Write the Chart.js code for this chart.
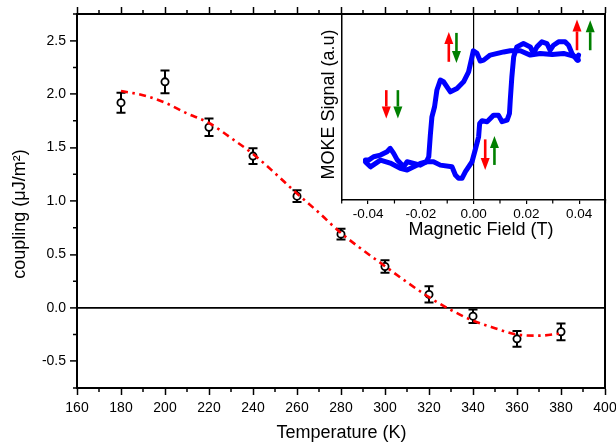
<!DOCTYPE html>
<html>
<head>
<meta charset="utf-8">
<script src="https://cdn.jsdelivr.net/npm/chart.js@4.4.1/dist/chart.umd.min.js"></script>
<style>
  html, body { margin: 0; padding: 0; background: #fff; }
  #wrap { position: relative; width: 616px; height: 446px; }
  #main  { position: absolute; left: 0; top: 0; }
  #inset { position: absolute; left: 318px; top: 0; }
</style>
</head>
<body>
<div id="wrap">
  <canvas id="main" width="616" height="446"></canvas>
  <canvas id="inset" width="298" height="246"></canvas>
</div>
<script>
// ── Data: main plot (coupling vs temperature) ─────────────
const temps    = [180, 200, 220, 240, 260, 280, 300, 320, 340, 360, 380];
const coupling = [1.92, 2.115, 1.69, 1.42, 1.045, 0.69, 0.387, 0.126, -0.078, -0.29, -0.224];
const errors   = [0.093, 0.106, 0.082, 0.073, 0.055, 0.05, 0.059, 0.076, 0.063, 0.073, 0.078];

// fitted curve
const fitT   = [180, 190, 200, 210, 220, 230, 240, 250, 260, 270, 280, 290, 300, 310, 320, 330, 340, 350, 360, 370, 380];
const fitVal = [2.03, 1.99, 1.92, 1.82, 1.73, 1.59, 1.44, 1.26, 1.07, 0.89, 0.70, 0.54, 0.39, 0.24, 0.10, -0.02, -0.12, -0.19, -0.25, -0.26, -0.24];

const xTicks = [160, 180, 200, 220, 240, 260, 280, 300, 320, 340, 360, 380, 400];
const yTicks = [-0.5, 0, 0.5, 1.0, 1.5, 2.0, 2.5];

// ── Data: inset (MOKE hysteresis loop) ────────────────────
const downField  = [0.0397, 0.0392, 0.0341, 0.0298, 0.0253, 0.0215, 0.0177, 0.0139, 0.0114, 0.0063, 0.0038, 0.0025, 0.0013, -0.0001, -0.0006, -0.0019, -0.0038, -0.0063, -0.0088, -0.0114, -0.0126, -0.0139, -0.0148, -0.0158, -0.0164, -0.0170, -0.0179, -0.0202, -0.0227, -0.0252, -0.0265, -0.0289, -0.0303, -0.0316, -0.0328, -0.0353, -0.0379, -0.0398, -0.0410];
const downSignal = [0.75, 0.766, 0.786, 0.78, 0.786, 0.777, 0.80, 0.80, 0.794, 0.777, 0.75, 0.745, 0.786, 0.80, 0.768, 0.687, 0.634, 0.598, 0.58, 0.634, 0.643, 0.59, 0.50, 0.446, 0.348, 0.232, 0.205, 0.187, 0.196, 0.205, 0.178, 0.214, 0.25, 0.277, 0.259, 0.241, 0.232, 0.214, 0.214];

const upField  = [-0.0410, -0.0391, -0.0353, -0.0316, -0.0278, -0.0252, -0.0227, -0.0202, -0.0177, -0.0152, -0.0126, -0.0082, -0.0069, -0.0057, -0.0044, -0.0031, -0.0019, -0.0006, 0.0006, 0.0019, 0.0023, 0.0032, 0.0051, 0.0076, 0.0094, 0.0108, 0.0127, 0.0136, 0.0139, 0.0145, 0.0152, 0.0164, 0.0189, 0.0215, 0.0227, 0.0240, 0.0259, 0.0278, 0.0290, 0.0303, 0.0322, 0.0347, 0.0360, 0.0373, 0.0392, 0.0398];
const upSignal = [0.204, 0.178, 0.214, 0.198, 0.17, 0.161, 0.178, 0.196, 0.205, 0.205, 0.187, 0.178, 0.134, 0.116, 0.116, 0.152, 0.178, 0.205, 0.268, 0.339, 0.411, 0.425, 0.42, 0.455, 0.455, 0.42, 0.428, 0.464, 0.536, 0.66, 0.768, 0.821, 0.839, 0.821, 0.786, 0.821, 0.848, 0.839, 0.803, 0.83, 0.848, 0.848, 0.83, 0.786, 0.75, 0.777];

const insetTicks = [-0.04, -0.02, 0, 0.02, 0.04];

// spin arrows in the inset: field, signal from -> to
const arrowX     = [-0.0331, -0.0287, -0.0094, -0.0065, 0.0044, 0.0079, 0.0392, 0.0442];
const arrowFrom  = [0.589, 0.589, 0.741, 0.896, 0.325, 0.188, 0.803, 0.803];
const arrowTo    = [0.437, 0.437, 0.901, 0.734, 0.161, 0.343, 0.968, 0.964];
const arrowColor = ['#ff0000', '#008000', '#ff0000', '#008000', '#ff0000', '#008000', '#ff0000', '#008000'];

// ── Shared plugins ────────────────────────────────────────
const FONT = "'Liberation Sans', Arial, sans-serif";
Chart.defaults.font.family = FONT;
Chart.defaults.color = '#000';

const minorTicks = {
  id: 'minorTicks',
  afterDraw(chart, args, opts) {
    const ctx = chart.ctx;
    ctx.save();
    ctx.strokeStyle = '#000';
    (opts.list || []).forEach(m => {
      const s = chart.scales[m.scale];
      const majors = s.ticks.map(t => t.value);
      ctx.lineWidth = m.width;
      ctx.beginPath();
      for (let k = Math.ceil(s.min / m.step - 1e-6); k * m.step <= s.max + 1e-9; k++) {
        const v = k * m.step;
        if (majors.some(mv => Math.abs(mv - v) < m.step / 100)) continue;
        const p = s.getPixelForValue(v);
        if (s.position === 'bottom')      { ctx.moveTo(p, s.top);    ctx.lineTo(p, s.top + m.len); }
        else if (s.position === 'top')    { ctx.moveTo(p, s.bottom); ctx.lineTo(p, s.bottom - m.len); }
        else if (s.position === 'left')   { ctx.moveTo(s.right, p);  ctx.lineTo(s.right - m.len, p); }
      }
      ctx.stroke();
    });
    ctx.restore();
  }
};

const freeTitle = {
  id: 'freeTitle',
  afterDraw(chart, args, opts) {
    const ctx = chart.ctx;
    (opts.items || []).forEach(it => {
      ctx.save();
      ctx.font = `${it.size}px ${FONT}`;
      ctx.fillStyle = '#000';
      ctx.textAlign = 'center';
      ctx.textBaseline = 'middle';
      ctx.translate(it.x, it.y);
      if (it.rotate) ctx.rotate(it.rotate);
      ctx.fillText(it.text, 0, 0);
      ctx.restore();
    });
  }
};

const errorBars = {
  id: 'errorBars',
  beforeDatasetsDraw(chart) {
    const { ctx, scales: { x, y } } = chart;
    ctx.save();
    ctx.strokeStyle = '#000';
    ctx.lineWidth = 2;
    temps.forEach((t, i) => {
      const px = x.getPixelForValue(t);
      const top = y.getPixelForValue(coupling[i] + errors[i]);
      const bot = y.getPixelForValue(coupling[i] - errors[i]);
      ctx.beginPath();
      ctx.moveTo(px, top); ctx.lineTo(px, bot);
      ctx.moveTo(px - 4.5, top); ctx.lineTo(px + 4.5, top);
      ctx.moveTo(px - 4.5, bot); ctx.lineTo(px + 4.5, bot);
      ctx.stroke();
    });
    ctx.restore();
  }
};

const arrows = {
  id: 'arrows',
  afterDatasetsDraw(chart) {
    const { ctx, scales: { x, y } } = chart;
    const head = 12, hw = 4.5;
    ctx.save();
    arrowX.forEach((xv, i) => {
      const px = x.getPixelForValue(xv);
      const y0 = y.getPixelForValue(arrowFrom[i]);
      const y1 = y.getPixelForValue(arrowTo[i]);
      const dir = Math.sign(y1 - y0);
      ctx.strokeStyle = ctx.fillStyle = arrowColor[i];
      ctx.lineWidth = 2.6;
      ctx.beginPath();
      ctx.moveTo(px, y0); ctx.lineTo(px, y1 - dir * head);
      ctx.stroke();
      ctx.beginPath();
      ctx.moveTo(px, y1);
      ctx.lineTo(px - hw, y1 - dir * head);
      ctx.lineTo(px + hw, y1 - dir * head);
      ctx.closePath();
      ctx.fill();
    });
    ctx.restore();
  }
};

const axisBorder = { color: '#000', width: 2 };
const majorGrid  = { drawOnChartArea: false, tickLength: 7, tickWidth: 1.5, tickColor: '#000' };
// keep the plot box fixed: no extra room reserved for edge labels
const noEdgePad = s => { s.paddingLeft = 0; s.paddingRight = 0; s.paddingTop = 0; s.paddingBottom = 0; };

// ── Main chart ────────────────────────────────────────────
new Chart(document.getElementById('main'), {
  type: 'line',
  data: {
    datasets: [
      {
        data: fitT.map((t, i) => ({ x: t, y: fitVal[i] })),
        borderColor: '#ff0000',
        borderWidth: 2.6,
        borderDash: [7, 4.5, 2.5, 4.5],
        pointRadius: 0,
        cubicInterpolationMode: 'monotone',
        fill: false,
      },
      {
        data: temps.map((t, i) => ({ x: t, y: coupling[i] })),
        showLine: false,
        pointRadius: 3.6,
        pointBorderWidth: 1.8,
        pointBorderColor: '#000',
        pointBackgroundColor: '#fff',
      },
    ],
  },
  options: {
    responsive: false,
    animation: false,
    layout: { padding: 0 },
    plugins: {
      legend: { display: false },
      tooltip: { enabled: false },
      minorTicks: { list: [
        { scale: 'x',  step: 10,   len: 4, width: 1.5 },
        { scale: 'x2', step: 10,   len: 4, width: 1.5 },
        { scale: 'y',  step: 0.25, len: 4, width: 1.5 },
      ] },
      freeTitle: { items: [
        { text: 'Temperature (K)',   x: 341.5, y: 433, size: 18 },
        { text: 'coupling (\u03bcJ/m\u00b2)', x: 20.5, y: 214, size: 18, rotate: -Math.PI / 2 },
      ] },
    },
    scales: {
      x: {
        type: 'linear', position: 'bottom', min: 160, max: 400,
        afterBuildTicks: s => { s.ticks = xTicks.map(v => ({ value: v })); },
        afterFit: s => { s.height = 58; noEdgePad(s); },
        ticks: { font: { size: 14 }, padding: 5, maxRotation: 0, autoSkip: false, callback: v => String(v) },
        grid: majorGrid,
        border: axisBorder,
      },
      x2: {
        type: 'linear', position: 'top', min: 160, max: 400,
        afterBuildTicks: s => { s.ticks = xTicks.map(v => ({ value: v })); },
        afterFit: s => { s.height = 14; noEdgePad(s); },
        ticks: { display: false },
        grid: majorGrid,
        border: axisBorder,
      },
      y: {
        type: 'linear', position: 'left', min: -0.75, max: 2.75,
        afterBuildTicks: s => { s.ticks = yTicks.map(v => ({ value: v })); },
        afterFit: s => { s.width = 77; noEdgePad(s); },
        ticks: { font: { size: 14 }, padding: 4, autoSkip: false, callback: v => Number(v).toFixed(1) },
        grid: {
          drawOnChartArea: true,
          color: c => (c.tick && c.tick.value === 0 ? '#000' : 'rgba(0,0,0,0)'),
          lineWidth: 1.8,
          tickLength: 7, tickWidth: 1.5, tickColor: '#000',
        },
        border: axisBorder,
      },
      y2: {
        type: 'linear', position: 'right', min: -0.75, max: 2.75,
        afterFit: s => { s.width = 11; noEdgePad(s); },
        ticks: { display: false },
        grid: { display: false },
        border: axisBorder,
      },
    },
  },
  plugins: [errorBars, minorTicks, freeTitle],
});

// ── Inset chart ───────────────────────────────────────────
new Chart(document.getElementById('inset'), {
  type: 'scatter',
  data: {
    datasets: [
      { data: downField.map((f, i) => ({ x: f, y: downSignal[i] })) },
      { data: upField.map((f, i) => ({ x: f, y: upSignal[i] })) },
    ].map(d => Object.assign(d, {
      showLine: true,
      borderColor: '#0000ff',
      borderWidth: 5,
      borderJoinStyle: 'round',
      borderCapStyle: 'round',
      pointRadius: 0,
      tension: 0,
    })),
  },
  options: {
    responsive: false,
    animation: false,
    layout: { padding: { left: 0, right: 10.5, top: 13.5, bottom: 0 } },
    plugins: {
      legend: { display: false },
      tooltip: { enabled: false },
      minorTicks: { list: [{ scale: 'x', step: 0.01, len: 3.5, width: 1.2 }] },
      freeTitle: { items: [
        { text: 'Magnetic Field (T)', x: 163, y: 230, size: 18 },
        { text: 'MOKE Signal (a.u)', x: 11.5, y: 104.5, size: 18, rotate: -Math.PI / 2 },
      ] },
    },
    scales: {
      x: {
        type: 'linear', position: 'bottom', min: -0.05, max: 0.05,
        afterBuildTicks: s => { s.ticks = insetTicks.map(v => ({ value: v })); },
        afterFit: s => { s.height = 46; noEdgePad(s); },
        ticks: { font: { size: 13.5 }, padding: 2, maxRotation: 0, autoSkip: false, callback: v => Number(v).toFixed(2) },
        grid: {
          drawOnChartArea: true,
          color: c => (c.tick && Math.abs(c.tick.value) < 1e-9 ? '#000' : 'rgba(0,0,0,0)'),
          lineWidth: 1.2,
          tickLength: 4, tickWidth: 1.2, tickColor: '#000',
        },
        border: { color: '#000', width: 1.5 },
      },
      y: {
        type: 'linear', position: 'left', min: 0, max: 1,
        afterFit: s => { s.width = 23.7; noEdgePad(s); },
        ticks: { display: false },
        grid: { display: false },
        border: { color: '#000', width: 1.5 },
      },
    },
  },
  plugins: [arrows, minorTicks, freeTitle],
});
</script>
</body>
</html>
